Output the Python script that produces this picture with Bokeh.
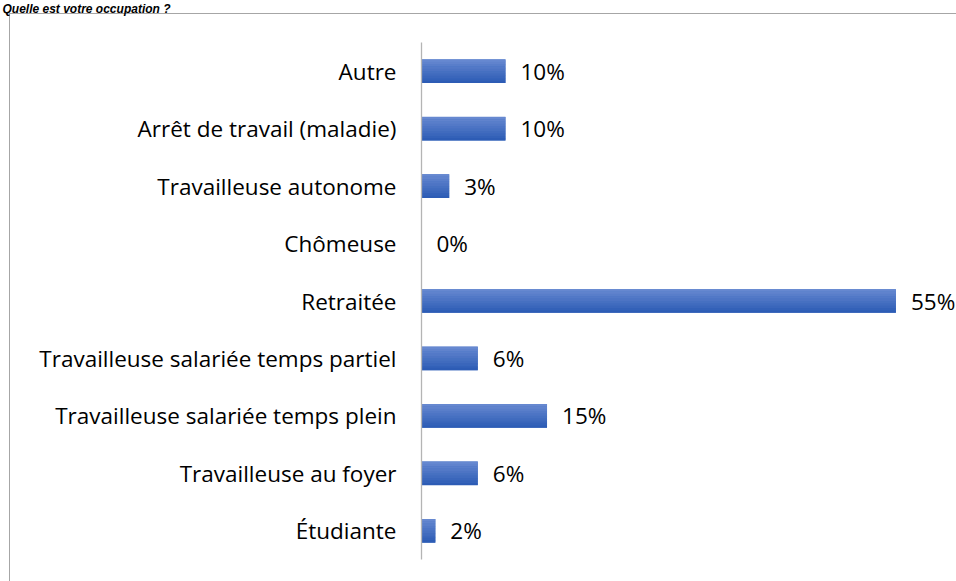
from bokeh.plotting import figure
from bokeh.models import FactorRange, Range1d, ColumnDataSource
from bokeh.transform import dodge
from bokeh.core.properties import value
from bokeh.embed import file_html
from bokeh.resources import INLINE

# ---- data (top to bottom as displayed) ----
categories = [
    "Autre",
    "Arrêt de travail (maladie)",
    "Travailleuse autonome",
    "Chômeuse",
    "Retraitée",
    "Travailleuse salariée temps partiel",
    "Travailleuse salariée temps plein",
    "Travailleuse au foyer",
    "Étudiante",
]
percent_values = [9.7, 9.7, 3.2, 0.0, 54.8, 6.5, 14.5, 6.5, 1.6]
percent_labels = ["10%", "10%", "3%", "0%", "55%", "6%", "15%", "6%", "2%"]
title_text = "Quelle est votre occupation ?"

FONT = "Open Sans"
FONT_SIZE = "22.5px"
BORDER = "#a6a6a6"
factors = list(reversed(categories))  # bottom to top

source = ColumnDataSource(dict(cat=categories, val=percent_values, lab=percent_labels))

p = figure(
    width=956, height=581,
    y_range=FactorRange(factors=factors),
    x_range=Range1d(0, 61.8),
    output_backend="svg", toolbar_location=None,
    x_axis_location=None,
    title=title_text,
    min_border_left=421, min_border_right=0,
    min_border_top=42, min_border_bottom=22,
)
p.outline_line_color = None
p.xgrid.visible = False
p.ygrid.visible = False
p.background_fill_color = None
p.border_fill_color = None
# outer chart box: left and top edges (the rest lies outside the picture)
p.styles = {
    "background": (
        f"linear-gradient({BORDER},{BORDER}) 9px 13px / 1px 100% no-repeat, "
        f"linear-gradient({BORDER},{BORDER}) 9px 13px / 100% 1px no-repeat, #ffffff"
    )
}

# title in the strip above the chart box
p.title.align = "left"
p.title.vertical_align = "top"
p.title.offset = -419
p.title.standoff = 0
p.title.padding = dict(left=0, right=0, top=0, bottom=25)
p.title.text_font = "Liberation Sans"
p.title.text_font_style = "bold italic"
p.title.text_font_size = "12px"
p.title.text_color = "#000000"

# bars: base + vertical gradient strips
BAR_H = 0.41
p.hbar(y="cat", left=0, right="val", height=BAR_H, source=source,
       fill_color="#4472c4", line_color=None)
N = 10
top_rgb = (0x66, 0x88, 0xd0)
bot_rgb = (0x2d, 0x5c, 0xb5)
sh = BAR_H / N
for i in range(N):
    t = i / (N - 1)
    rgb = tuple(int(round(a + (b - a) * t)) for a, b in zip(top_rgb, bot_rgb))
    col = "#%02x%02x%02x" % rgb
    off = BAR_H / 2 - sh / 2 - i * sh
    p.hbar(y=dodge("cat", off, range=p.y_range), left=0, right="val",
           height=sh * 1.08, source=source, fill_color=col, line_color=None)

# value labels
p.text(x="val", y="cat", text="lab", source=source, x_offset=15,
       text_align="left", text_baseline="middle",
       text_font=value(FONT), text_font_size=FONT_SIZE, text_color="#000000")

# category axis
ax = p.yaxis[0]
ax.major_tick_line_color = None
ax.minor_tick_line_color = None
ax.major_tick_out = 0
ax.major_tick_in = 0
ax.axis_line_color = "#b4b4b4"
ax.axis_line_width = 1.3
ax.major_label_text_font = FONT
ax.major_label_text_font_size = FONT_SIZE
ax.major_label_text_color = "#000000"
ax.major_label_standoff = 25

open("out.html", "w").write(file_html(p, INLINE))
